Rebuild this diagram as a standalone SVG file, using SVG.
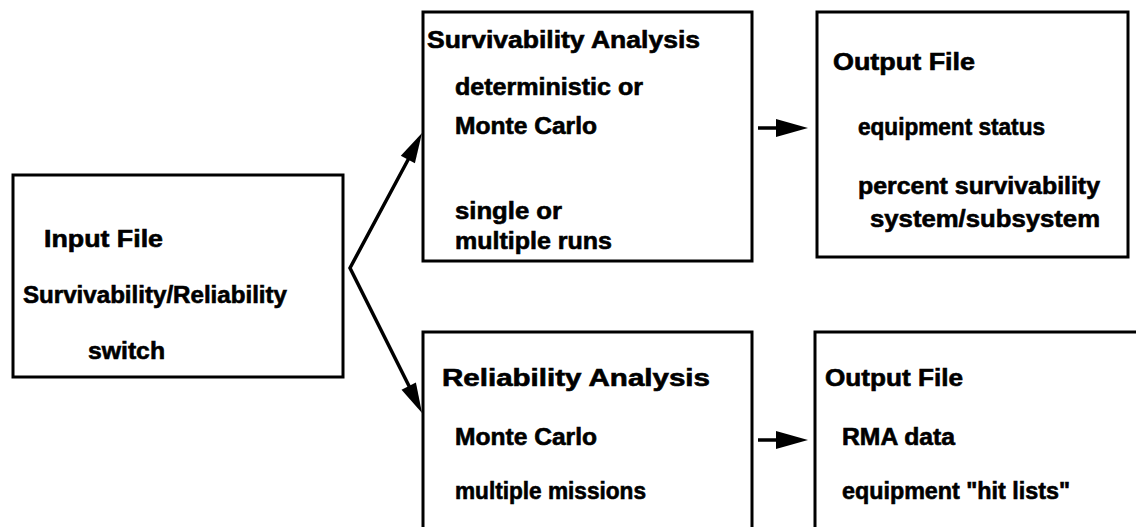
<svg xmlns="http://www.w3.org/2000/svg" width="1136" height="527" viewBox="0 0 1136 527">
<style>
.box{fill:#fff;stroke:#000;stroke-width:3}
.t{font-family:"Liberation Sans",Arial,sans-serif;font-weight:bold;font-size:23px;fill:#000;stroke:#000;stroke-width:0.6}
.c{stroke:#000;stroke-width:3.5;fill:none;stroke-linejoin:miter}
.h{fill:#000}
</style>
<rect width="1136" height="527" fill="#fff"/>
<g id="input">
<rect class="box" x="13" y="175" width="330" height="202"/>
<text class="t" x="44" y="247" textLength="119" lengthAdjust="spacingAndGlyphs">Input File</text>
<text class="t" x="23" y="303" textLength="264" lengthAdjust="spacingAndGlyphs">Survivability/Reliability</text>
<text class="t" x="88" y="359" textLength="77" lengthAdjust="spacingAndGlyphs">switch</text>
</g>
<g id="survivability">
<rect class="box" x="423" y="12" width="329" height="249"/>
<text class="t" x="427" y="48" textLength="273" lengthAdjust="spacingAndGlyphs">Survivability Analysis</text>
<text class="t" x="455" y="95" textLength="188" lengthAdjust="spacingAndGlyphs">deterministic or</text>
<text class="t" x="455" y="134" textLength="142" lengthAdjust="spacingAndGlyphs">Monte Carlo</text>
<text class="t" x="455" y="219" textLength="107" lengthAdjust="spacingAndGlyphs">single or</text>
<text class="t" x="455" y="249" textLength="157" lengthAdjust="spacingAndGlyphs">multiple runs</text>
</g>
<g id="output1">
<rect class="box" x="817" y="12" width="311" height="245"/>
<text class="t" x="833" y="70" textLength="142" lengthAdjust="spacingAndGlyphs">Output File</text>
<text class="t" x="858" y="135" textLength="187" lengthAdjust="spacingAndGlyphs">equipment status</text>
<text class="t" x="858" y="194" textLength="242" lengthAdjust="spacingAndGlyphs">percent survivability</text>
<text class="t" x="870" y="227" textLength="230" lengthAdjust="spacingAndGlyphs">system/subsystem</text>
</g>
<g id="reliability">
<rect class="box" x="423" y="332" width="329" height="210"/>
<text class="t" x="442" y="386" textLength="268" lengthAdjust="spacingAndGlyphs">Reliability Analysis</text>
<text class="t" x="455" y="445" textLength="142" lengthAdjust="spacingAndGlyphs">Monte Carlo</text>
<text class="t" x="455" y="499" textLength="191" lengthAdjust="spacingAndGlyphs">multiple missions</text>
</g>
<g id="output2">
<rect class="box" x="815" y="332" width="330" height="210"/>
<text class="t" x="825" y="386" textLength="138" lengthAdjust="spacingAndGlyphs">Output File</text>
<text class="t" x="842" y="445" textLength="113" lengthAdjust="spacingAndGlyphs">RMA data</text>
<text class="t" x="842" y="499" textLength="228" lengthAdjust="spacingAndGlyphs">equipment "hit lists"</text>
</g>
<g id="connectors">
<polyline class="c" points="409,158 350,268 410,388"/>
<polygon class="h" points="422,133 414.9,163.3 400.8,155.7"/>
<polygon class="h" points="422,413 401.5,389.7 415.9,382.5"/>
<line class="c" x1="758" y1="128" x2="780" y2="128"/>
<polygon class="h" points="808,128 776,119 776,137"/>
<line class="c" x1="758" y1="440" x2="780" y2="440"/>
<polygon class="h" points="808,440 776,431 776,449"/>
</g>
</svg>
